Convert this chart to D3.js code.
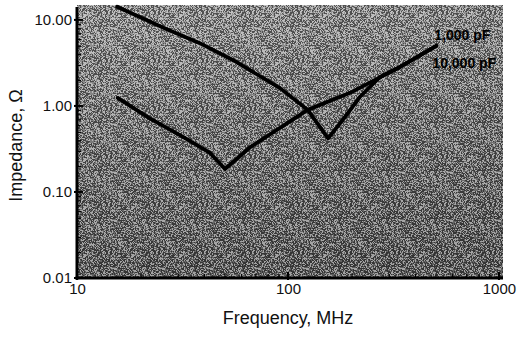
<!DOCTYPE html>
<html lang="en">
<head>
<meta charset="UTF-8">
<title>Impedance vs Frequency</title>
<script src="https://d3js.org/d3.v7.min.js"></script>
<style>
    body { margin: 0; background: #fff; }
    svg { display: block; font-family: "Liberation Sans", Arial, sans-serif; }
    .tick-label { font-size: 15px; fill: #111; }
    .axis-title { font-size: 18px; fill: #111; }
    .curve { fill: none; stroke: #000; stroke-width: 3.8px; stroke-linejoin: round; stroke-linecap: round; }
    .note { font-size: 14px; font-weight: bold; fill: #000; }
</style>
</head>
<body>
<div id="chart"></div>
<script>
    // values (frequency in MHz, impedance in ohms)
    const freq1000 = [15.5, 26, 38, 55, 92, 124, 155, 182, 219, 273, 340, 505];
    const imp1000  = [14.2, 8.0, 5.4, 3.4, 1.6, 0.9, 0.42, 0.69, 1.27, 2.17, 2.84, 5.0];
    const freq10000 = [15.6, 22, 31.8, 42.7, 50.3, 66, 124, 197, 340, 505];
    const imp10000  = [1.24, 0.72, 0.436, 0.284, 0.185, 0.33, 0.9, 1.42, 2.84, 5.0];

    const yTicks = [0.01, 0.1, 1, 10];
    const yTickLabels = ["0.01", "0.10", "1.00", "10.00"];
    const xTicks = [10, 100, 1000];
    const xTickLabels = ["10", "100", "1000"];
    const seriesNames = ["1,000 pF", "10,000 pF"];

    const width = 521, height = 339;
    const plotL = 77, plotR = 503, plotT = 5, plotB = 278;

    const svg = d3.select("#chart").append("svg")
        .attr("width", width)
        .attr("height", height);

    const x = d3.scaleLog().domain([10, 1045]).range([plotL, plotR]);
    const y = d3.scaleLog().domain([0.01, 14.9]).range([plotB, plotT]);

    // halftone-like grey background
    const defs = svg.append("defs");
    const grad = defs.append("linearGradient")
        .attr("id", "bg").attr("x1", 0).attr("y1", 0).attr("x2", 0.15).attr("y2", 1);
    grad.append("stop").attr("offset", "0%").attr("stop-color", "#9a9a9a");
    grad.append("stop").attr("offset", "50%").attr("stop-color", "#7a7a7a");
    grad.append("stop").attr("offset", "100%").attr("stop-color", "#5e5e5e");

    // screen texture: fixed integer hash per pixel of a 48px tile
    function hash(i, j) {
        let h = Math.imul(i, 374761393) + Math.imul(j, 668265263);
        h = Math.imul(h ^ (h >>> 13), 1274126177);
        return ((h ^ (h >>> 16)) >>> 0) % 100;
    }
    const tile = 48;
    const pat = defs.append("pattern")
        .attr("id", "dots").attr("width", tile).attr("height", tile)
        .attr("patternUnits", "userSpaceOnUse");
    for (let i = 0; i < tile; i++) {
        for (let j = 0; j < tile; j++) {
            const h = hash(i, j);
            if (h < 38) {
                pat.append("rect").attr("x", i).attr("y", j).attr("width", 1).attr("height", 1)
                    .attr("fill", "#000").attr("opacity", 0.45);
            } else if (h > 68) {
                pat.append("rect").attr("x", i).attr("y", j).attr("width", 1).attr("height", 1)
                    .attr("fill", "#fff").attr("opacity", 0.42);
            }
        }
    }

    svg.append("rect")
        .attr("x", plotL).attr("y", plotT)
        .attr("width", plotR - plotL).attr("height", plotB - plotT)
        .attr("fill", "url(#bg)");
    svg.append("rect")
        .attr("x", plotL).attr("y", plotT)
        .attr("width", plotR - plotL).attr("height", plotB - plotT)
        .attr("fill", "url(#dots)");

    // minor ticks for every decade
    const yMinor = [];
    for (let d = 0.01; d < 14; d *= 10) {
        for (let k = 2; k <= 9; k++) if (d * k < 14.9) yMinor.push(d * k);
    }
    const xMinor = [];
    for (let d = 10; d < 1000; d *= 10) {
        for (let k = 2; k <= 9; k++) xMinor.push(d * k);
    }

    const yAxis = svg.append("g").attr("transform", `translate(${plotL},0)`)
        .call(d3.axisRight(y).tickValues(yMinor).tickSize(4).tickFormat(""));
    yAxis.select(".domain").remove();
    yAxis.selectAll("line").attr("stroke", "#000").attr("stroke-width", 1.2);

    const yMajor = svg.append("g").attr("transform", `translate(${plotL},0)`)
        .call(d3.axisLeft(y).tickValues(yTicks).tickSize(0).tickPadding(5)
            .tickFormat((d, i) => yTickLabels[i]));
    yMajor.select(".domain").remove();
    yMajor.selectAll("text").attr("class", "tick-label").attr("font-family", null).attr("font-size", null);
    yTicks.forEach(v => svg.append("line")
        .attr("x1", plotL - 3).attr("x2", plotL + 6)
        .attr("y1", y(v)).attr("y2", y(v))
        .attr("stroke", "#000").attr("stroke-width", 2));

    const xAxis = svg.append("g").attr("transform", `translate(0,${plotB})`)
        .call(d3.axisTop(x).tickValues(xMinor).tickSize(4).tickFormat(""));
    xAxis.select(".domain").remove();
    xAxis.selectAll("line").attr("stroke", "#000").attr("stroke-width", 1.2);

    const xMajor = svg.append("g").attr("transform", `translate(0,${plotB})`)
        .call(d3.axisBottom(x).tickValues(xTicks).tickSize(0).tickPadding(5)
            .tickFormat((d, i) => xTickLabels[i]));
    xMajor.select(".domain").remove();
    xMajor.selectAll("text").attr("class", "tick-label").attr("font-family", null).attr("font-size", null);
    xTicks.forEach(v => svg.append("line")
        .attr("x1", x(v)).attr("x2", x(v))
        .attr("y1", plotB + 2).attr("y2", plotB - 6)
        .attr("stroke", "#000").attr("stroke-width", 2));

    // heavy frame lines on left and bottom
    svg.append("line").attr("x1", plotL).attr("x2", plotL).attr("y1", plotT + 2).attr("y2", plotB + 1.5)
        .attr("stroke", "#000").attr("stroke-width", 3);
    svg.append("line").attr("x1", plotL - 1.5).attr("x2", plotR).attr("y1", plotB).attr("y2", plotB)
        .attr("stroke", "#000").attr("stroke-width", 3);

    // curves
    const line = d3.line().x(d => x(d[0])).y(d => y(d[1]));
    const s1 = freq1000.map((f, i) => [f, imp1000[i]]);
    const s2 = freq10000.map((f, i) => [f, imp10000[i]]);

    const plot = svg.append("g");
    plot.append("path").attr("class", "curve").attr("d", line(s1));
    plot.append("path").attr("class", "curve").attr("d", line(s2));

    // curve labels near the right end
    const endX = x(freq1000[freq1000.length - 1]);
    const endY = y(imp1000[imp1000.length - 1]);
    plot.append("text").attr("class", "note")
        .attr("x", endX - 2).attr("y", endY - 6).text(seriesNames[0]);
    plot.append("text").attr("class", "note")
        .attr("x", endX - 4).attr("y", endY + 22).text(seriesNames[1]);

    // axis titles
    svg.append("text").attr("class", "axis-title")
        .attr("text-anchor", "middle")
        .attr("transform", `translate(22,${(plotT + plotB) / 2 + 4}) rotate(-90)`)
        .text("Impedance, \u03A9");
    svg.append("text").attr("class", "axis-title")
        .attr("text-anchor", "middle")
        .attr("x", (plotL + plotR) / 2 - 2).attr("y", 324)
        .text("Frequency, MHz");
</script>
</body>
</html>
